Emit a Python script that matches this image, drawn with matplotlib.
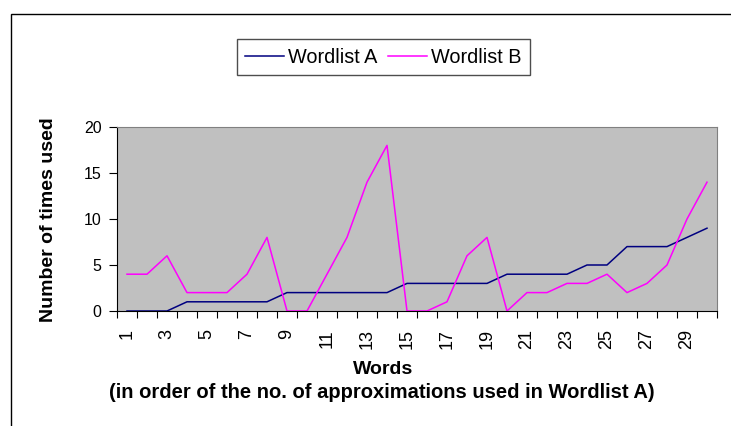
import matplotlib.pyplot as plt
from matplotlib.patches import Rectangle
import numpy as np

plt.rcParams['font.family'] = ['Liberation Sans', 'DejaVu Sans']

words = list(range(1, 31))
wordlist_a = [0, 0, 0, 1, 1, 1, 1, 1, 2, 2, 2, 2, 2, 2, 3, 3, 3, 3, 3, 4,
              4, 4, 4, 5, 5, 7, 7, 7, 8, 9]
wordlist_b = [4, 4, 6, 2, 2, 2, 4, 8, 0, 0, 4, 8, 14, 18, 0, 0, 1, 6, 8, 0,
              2, 2, 3, 3, 4, 2, 3, 5, 10, 14]
xlabels = [str(w) for w in words if w % 2 == 1]

W, H = 731, 426
fig = plt.figure(figsize=(W / 100, H / 100), dpi=100)
ax = fig.add_axes([117 / W, 1 - 311 / H, 600 / W, 184 / H])
ax.set_facecolor('#c0c0c0')

la, = ax.plot(words, wordlist_a, color='#000080', lw=1.1, label='Wordlist A')
lb, = ax.plot(words, wordlist_b, color='#ff00ff', lw=1.1, label='Wordlist B')

ax.set_xlim(0.5, 30.5)
ax.set_ylim(0, 20)
ax.set_yticks([0, 5, 10, 15, 20])
ax.tick_params(axis='y', labelsize=11.5, length=6, direction='out', pad=5)

# tick marks between categories, labels on odd categories
ax.set_xticks(np.arange(0.5, 31, 1))
ax.set_xticklabels([])
ax.tick_params(axis='x', which='major', length=5, direction='out')
ax.set_xticks([w for w in words if w % 2 == 1], minor=True)
ax.set_xticklabels(xlabels, minor=True, rotation=90, fontsize=13)
ax.tick_params(axis='x', which='minor', length=0, pad=13)

for s in ['top', 'right']:
    ax.spines[s].set_color('#808080')
for s in ['left', 'bottom']:
    ax.spines[s].set_color('black')

fig.text(53 / W, 1 - 220 / H, 'Number of times used', rotation=90,
         rotation_mode='anchor', ha='center', va='baseline',
         fontsize=14, fontweight='bold')
fig.text(383 / W, 1 - 374 / H, 'Words', ha='center', va='baseline',
         fontsize=14, fontweight='bold')
fig.text(382 / W, 1 - 398 / H,
         '(in order of the no. of approximations used in Wordlist A)',
         ha='center', va='baseline', fontsize=14.5, fontweight='bold')

leg = fig.legend(handles=[la, lb], loc='center', ncol=2,
                 bbox_to_anchor=(383.5 / W, 1 - 57 / H), fontsize=14.3,
                 frameon=True, fancybox=False, edgecolor='#202020',
                 handlelength=1.95, handletextpad=0.2, columnspacing=0.55,
                 borderpad=0.42, borderaxespad=0)
leg.get_frame().set_linewidth(1.0)

# outer chart border
fig.patches.append(Rectangle((11 / W, -0.1), 1.0, 1.1 - 14 / H,
                             transform=fig.transFigure, fill=False,
                             edgecolor='black', lw=1))

fig.savefig('out.png', dpi=100)
